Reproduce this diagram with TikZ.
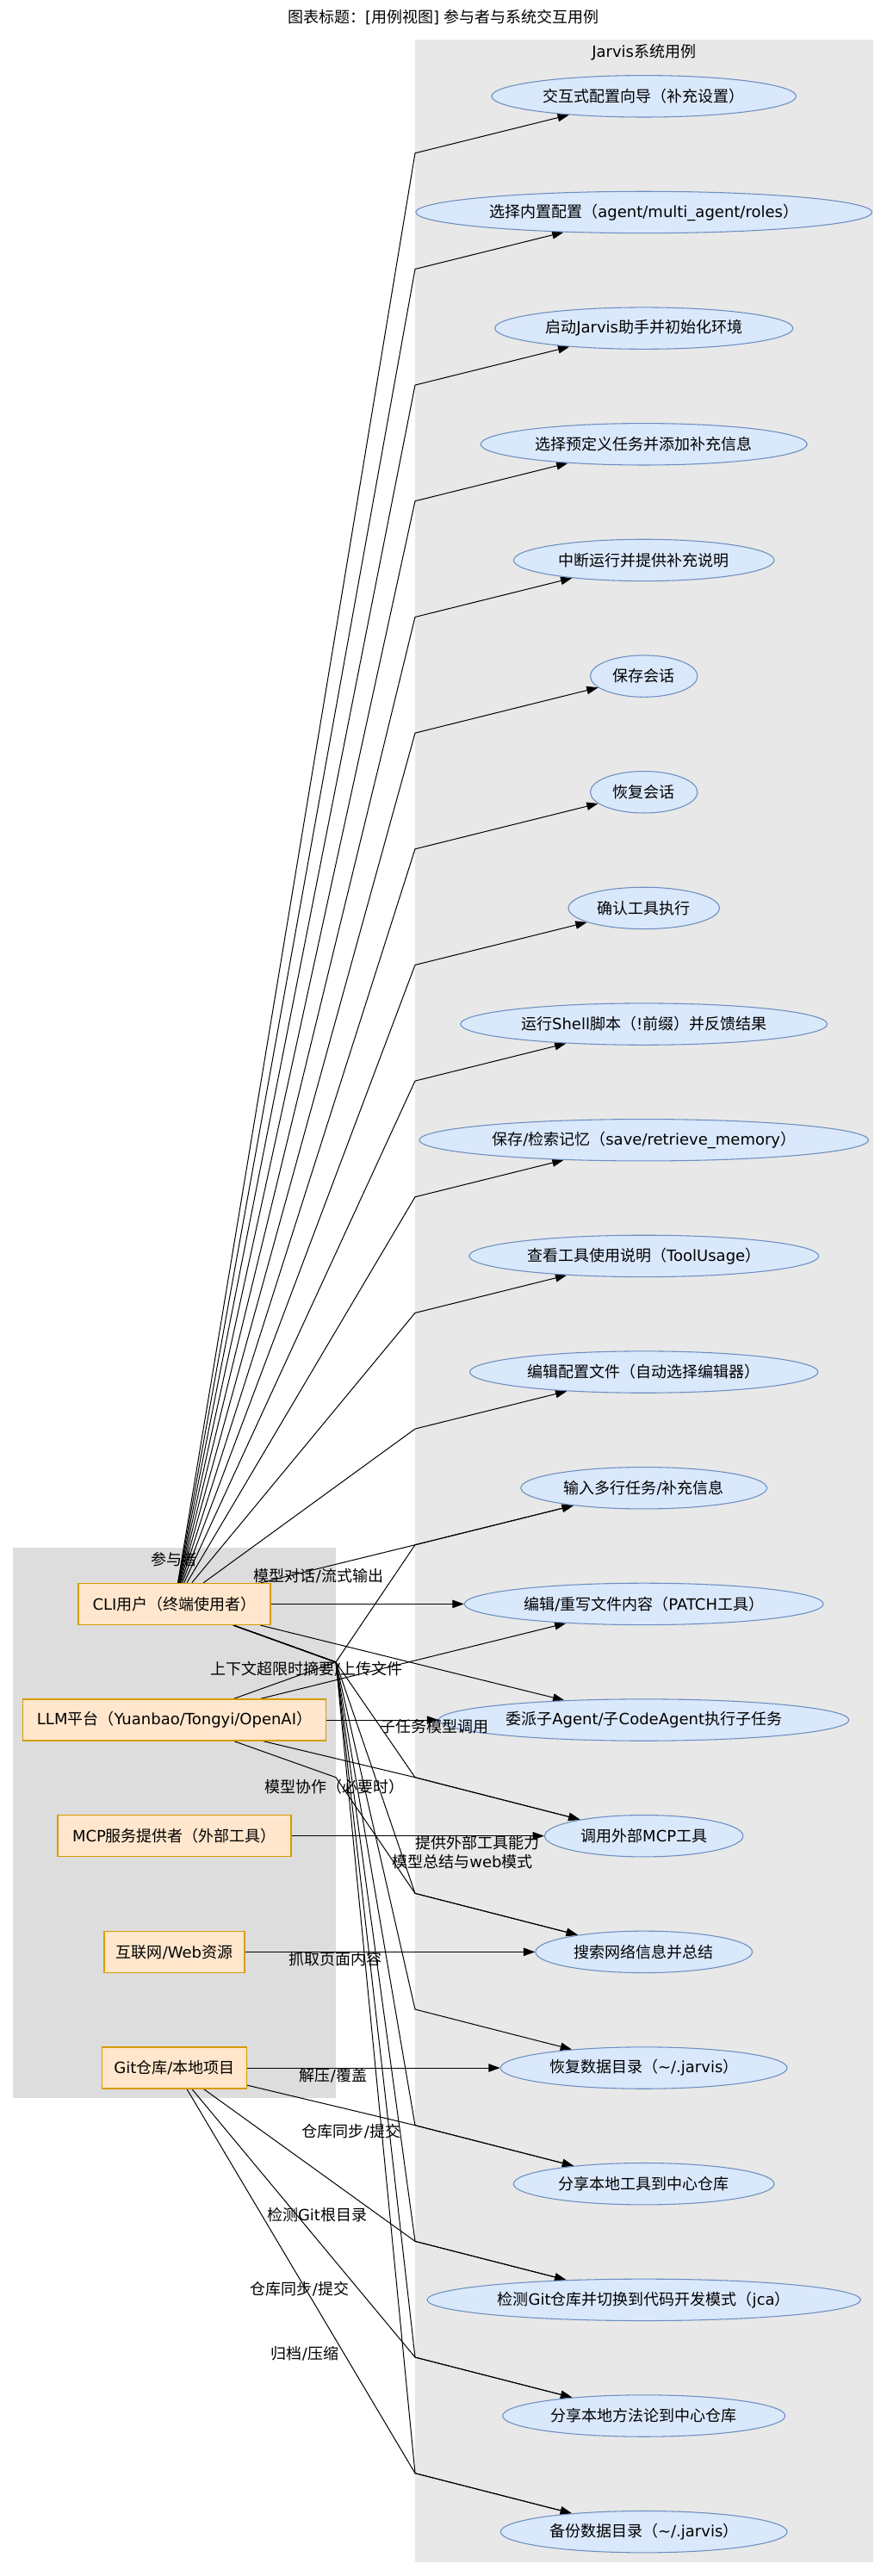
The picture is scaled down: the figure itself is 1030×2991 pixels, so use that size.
\documentclass[tikz,border=0pt]{standalone}
\usepackage{fontspec}
\setmainfont{DejaVu Sans}
\newfontfamily\cjkfont{Noto Sans CJK SC}
\newcommand\zh[1]{{\cjkfont #1}}
\usetikzlibrary{arrows.meta,shapes.geometric}
\definecolor{actfill}{HTML}{FFE6CC}
\definecolor{actline}{HTML}{D79B00}
\definecolor{ucfill}{HTML}{DAE8FC}
\definecolor{ucline}{HTML}{6C8EBF}
\definecolor{actbg}{HTML}{DDDDDD}
\definecolor{sysbg}{HTML}{E8E8E8}
\pgfdeclarelayer{bg}
\pgfdeclarelayer{edg}
\pgfsetlayers{bg,edg,main}
\tikzset{
  every node/.style={font=\fontsize{13.5pt}{16pt}\selectfont},
  actor/.style={rectangle, draw=actline, fill=actfill, line width=1pt, minimum height=36pt, inner sep=0pt},
  uc/.style={ellipse, draw=ucline, fill=ucfill, line width=0.8pt, inner xsep=6pt, inner ysep=1pt, minimum height=36.3pt},
  lbl/.style={inner sep=0pt},
  edge/.style={draw=black, line width=0.75pt, line join=round, -{Triangle[length=10pt,width=7pt]}},
}
\begin{document}
\begin{tikzpicture}[x=0.75pt,y=-0.75pt]
\useasboundingbox (0,0) rectangle (1030,2991);
% clusters
\begin{pgfonlayer}{bg}
\fill[sysbg] (482,46) rectangle (1014,2975);
\fill[actbg] (15,1797) rectangle (390,2436);
\end{pgfonlayer}
\node[lbl] (title) at (515,20) {\zh{图表标题：}[\zh{用例视图}] \zh{参与者与系统交互用例}};
\node[lbl] (syslabel) at (747.7,61) {Jarvis\zh{系统用例}};
\node[lbl] (actlabel) at (202.5,1811) {\zh{参与者}};
% actors
\node[actor, minimum width=167.25pt] (cli) at (202.5,1862.38) {CLI\zh{用户（终端使用者）}};
\node[actor, minimum width=264pt] (llm) at (202.5,1997.04) {LLM\zh{平台（}Yuanbao/Tongyi/OpenAI\zh{）}};
\node[actor, minimum width=203.25pt] (mcp) at (202.5,2131.7) {MCP\zh{服务提供者（外部工具）}};
\node[actor, minimum width=122.25pt] (web) at (202.5,2266.36) {\zh{互联网}/Web\zh{资源}};
\node[actor, minimum width=126pt] (git) at (202.5,2401.02) {Git\zh{仓库}/\zh{本地项目}};
% use cases
\node[uc] (e1) at (747.7,111.8) {\zh{交互式配置向导（补充设置）}};
\node[uc] (e2) at (747.7,246.46) {\zh{选择内置配置（}agent/multi\_agent/roles\zh{）}};
\node[uc] (e3) at (747.7,381.12) {\zh{启动}Jarvis\zh{助手并初始化环境}};
\node[uc] (e4) at (747.7,515.78) {\zh{选择预定义任务并添加补充信息}};
\node[uc] (e5) at (747.7,650.44) {\zh{中断运行并提供补充说明}};
\node[uc] (e6) at (747.7,785.1) {\zh{保存会话}};
\node[uc] (e7) at (747.7,919.76) {\zh{恢复会话}};
\node[uc] (e8) at (747.7,1054.42) {\zh{确认工具执行}};
\node[uc] (e9) at (747.7,1189.08) {\zh{运行}Shell\zh{脚本（}!\zh{前缀）并反馈结果}};
\node[uc] (e10) at (747.7,1323.74) {\zh{保存}/\zh{检索记忆（}save/retrieve\_memory\zh{）}};
\node[uc] (e11) at (747.7,1458.4) {\zh{查看工具使用说明（}ToolUsage\zh{）}};
\node[uc] (e12) at (747.7,1593.06) {\zh{编辑配置文件（自动选择编辑器）}};
\node[uc] (e13) at (747.7,1727.72) {\zh{输入多行任务}/\zh{补充信息}};
\node[uc] (e14) at (747.7,1862.38) {\zh{编辑}/\zh{重写文件内容（}PATCH\zh{工具）}};
\node[uc] (e15) at (747.7,1997.04) {\zh{委派子}Agent/\zh{子}CodeAgent\zh{执行子任务}};
\node[uc] (e16) at (747.7,2131.7) {\zh{调用外部}MCP\zh{工具}};
\node[uc] (e17) at (747.7,2266.36) {\zh{搜索网络信息并总结}};
\node[uc] (e18) at (747.7,2401.02) {\zh{恢复数据目录（}\textasciitilde/.jarvis\zh{）}};
\node[uc] (e19) at (747.7,2535.68) {\zh{分享本地工具到中心仓库}};
\node[uc] (e20) at (747.7,2670.34) {\zh{检测}Git\zh{仓库并切换到代码开发模式（}jca\zh{）}};
\node[uc] (e21) at (747.7,2805.0) {\zh{分享本地方法论到中心仓库}};
\node[uc] (e22) at (747.7,2939.66) {\zh{备份数据目录（}\textasciitilde/.jarvis\zh{）}};
% bend coordinates
\foreach \k in {1,...,13} \coordinate (u\k) at (482,{111.8+(\k-1)*134.66+66});
\foreach \k in {16,...,22} \coordinate (d\k) at (482,{111.8+(\k-1)*134.66-68});
\coordinate (hA) at (390,1929.9);
\coordinate (hB) at (390,2063.7);
% edges
\begin{pgfonlayer}{edg}
\foreach \k in {1,...,13} \draw[edge] (cli) -- (u\k) -- (e\k);
\draw[edge] (cli) -- (e14);
\draw[edge] (cli) -- (e15);
\foreach \k in {16,...,22} \draw[edge] (cli) -- (hA) -- (d\k) -- (e\k);
\draw[edge] (llm) -- (hA) -- (u13) -- (e13);
\draw[edge] (llm) -- (e14);
\draw[edge] (llm) -- (e15);
\draw[edge] (llm) -- (d16) -- (e16);
\draw[edge] (llm) -- (hB) -- (d17) -- (e17);
\draw[edge] (mcp) -- (e16);
\draw[edge] (web) -- (e17);
\draw[edge] (git) -- (e18);
\foreach \k in {19,...,22} \draw[edge] (git) -- (d\k) -- (e\k);
\end{pgfonlayer}
% edge labels
\node[lbl] (l1) at (370,1830) {\zh{模型对话}/\zh{流式输出}};
\node[lbl] (l2) at (356,1938) {\zh{上下文超限时摘要}/\zh{上传文件}};
\node[lbl] (l3) at (504,2005) {\zh{子任务模型调用}};
\node[lbl] (l4) at (388,2075) {\zh{模型协作（必要时）}};
\node[lbl] (l5) at (554,2140) {\zh{提供外部工具能力}};
\node[lbl] (l6) at (537,2162) {\zh{模型总结与}web\zh{模式}};
\node[lbl] (l7) at (389,2275) {\zh{抓取页面内容}};
\node[lbl] (l8) at (387,2410) {\zh{解压}/\zh{覆盖}};
\node[lbl] (l9) at (408,2475) {\zh{仓库同步}/\zh{提交}};
\node[lbl] (l10) at (368,2572) {\zh{检测}Git\zh{根目录}};
\node[lbl] (l11) at (348,2658) {\zh{仓库同步}/\zh{提交}};
\node[lbl] (l12) at (354,2733) {\zh{归档}/\zh{压缩}};
\end{tikzpicture}
\end{document}
